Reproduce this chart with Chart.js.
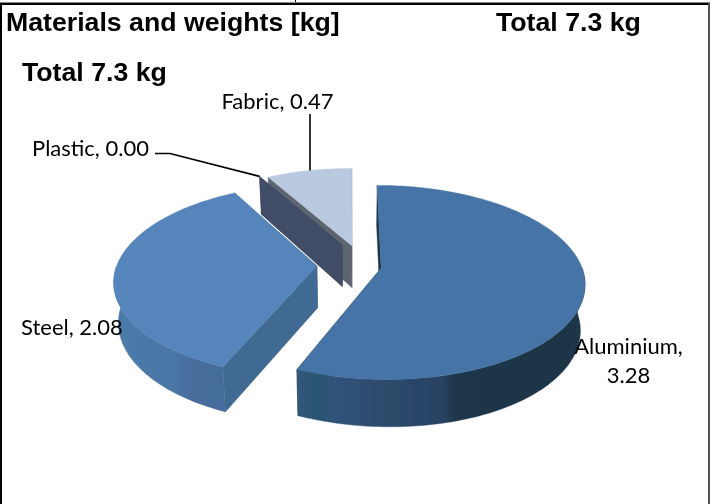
<!DOCTYPE html>
<html>
<head>
<meta charset="utf-8">
<title>Materials and weights</title>
<script src="https://cdn.jsdelivr.net/npm/chart.js@4"></script>
<style>
html, body { margin: 0; padding: 0; background: #fff; }
#wrap { position: relative; width: 710px; height: 504px; overflow: hidden; }
</style>
</head>
<body>
<div id="wrap"><canvas id="pieChart" width="710" height="504"></canvas></div>
<script>
var materials = ['Aluminium', 'Steel', 'Plastic', 'Fabric'];
var weights = [3.28, 2.08, 0.00, 0.47];
var totalText = 'Total 7.3 kg';
var titleText = 'Materials and weights [kg]';

var topColors = ['#4674a6', '#5585bb', '#414d66', '#b9c9e0'];
var sideColors = ['#1d3649', '#416a93', '#414d66', '#5e6570'];

// how far each slice is pulled out, on the floor of the pie
var pullX = [31, -33, -8, 2];
var pullY = [6.5, 2, -44, -42];

// camera
var cx = 350, cy = 265, radius = 200, squash = 0.47, persp = 0.000735;
var depth = 42.5, squashLow = 0.4885, shrinkLow = 0.98, tiltLow = 0.012;

function project(x, y, low) {
    var d = 1 - persp * y;
    if (low) {
        return [cx + shrinkLow * x / d, cy + depth + squashLow * y / d + tiltLow * x];
    }
    return [cx + x / d, cy + squash * y / d];
}

function rimPoints(i, start, end, low) {
    var pts = [];
    var steps = Math.max(1, Math.ceil((end - start) / 0.02));
    for (var s = 0; s <= steps; s++) {
        var a = start + (end - start) * s / steps;
        pts.push(project(pullX[i] + radius * Math.cos(a), pullY[i] + radius * Math.sin(a), low));
    }
    return pts;
}

function fillPoly(ctx, pts, fill) {
    ctx.beginPath();
    pts.forEach(function (p, n) {
        if (n === 0) ctx.moveTo(p[0], p[1]);
        else ctx.lineTo(p[0], p[1]);
    });
    ctx.closePath();
    ctx.fillStyle = fill;
    ctx.fill();
    ctx.strokeStyle = fill;
    ctx.lineWidth = 0.4;
    ctx.stroke();
}

function radialWall(ctx, i, angle) {
    var ox = pullX[i] + radius * Math.cos(angle);
    var oy = pullY[i] + radius * Math.sin(angle);
    fillPoly(ctx, [
        project(pullX[i], pullY[i], false),
        project(ox, oy, false),
        project(ox, oy, true),
        project(pullX[i], pullY[i], true)
    ], sideColors[i]);
}

function wallFill(ctx, i) {
    if (i === 0) {
        var g = ctx.createLinearGradient(298, 0, 585, 0);
        g.addColorStop(0, '#33567a');
        g.addColorStop(0.08, '#2a5472');
        g.addColorStop(0.13, '#30537a');
        g.addColorStop(0.2, '#2f5074');
        g.addColorStop(0.27, '#2f4a6e');
        g.addColorStop(0.34, '#2b4c6a');
        g.addColorStop(0.4, '#294668');
        g.addColorStop(0.5, '#2a4264');
        g.addColorStop(0.55, '#1d3649');
        g.addColorStop(1, '#1c3547');
        return g;
    }
    if (i === 1) {
        var h = ctx.createLinearGradient(118, 0, 224, 0);
        h.addColorStop(0, '#4a7caa');
        h.addColorStop(0.5, '#4a76a6');
        h.addColorStop(0.7, '#486d9d');
        h.addColorStop(1, '#446c9a');
        return h;
    }
    return sideColors[i];
}

function text(ctx, str, x, y, font, align) {
    ctx.font = font;
    ctx.textAlign = align || 'left';
    ctx.textBaseline = 'alphabetic';
    ctx.fillStyle = '#000';
    ctx.fillText(str, x, y);
}

function line(ctx, pts) {
    ctx.beginPath();
    pts.forEach(function (p, n) {
        if (n === 0) ctx.moveTo(p[0], p[1]);
        else ctx.lineTo(p[0], p[1]);
    });
    ctx.strokeStyle = '#000';
    ctx.lineWidth = 1.6;
    ctx.stroke();
}

var pie3d = {
    id: 'pie3d',
    beforeDatasetDraw: function (chart, args) {
        var ctx = chart.ctx;
        var arcs = args.meta.data;
        ctx.save();
        // back slices first, the near ones paint over them
        [3, 2, 1, 0].forEach(function (i) {
            var a = arcs[i];
            radialWall(ctx, i, a.endAngle);
            radialWall(ctx, i, a.startAngle);
            // only the part of the rim that faces the viewer has a wall
            var from = Math.max(a.startAngle, 0);
            var to = Math.min(a.endAngle, Math.PI);
            if (to > from) {
                var wallTop = rimPoints(i, from, to, false);
                var wallLow = rimPoints(i, from, to, true);
                fillPoly(ctx, wallTop.concat(wallLow.reverse()), wallFill(ctx, i));
            }
            if (a.endAngle > a.startAngle) {
                var rim = rimPoints(i, a.startAngle, a.endAngle, false);
                fillPoly(ctx, [project(pullX[i], pullY[i], false)].concat(rim), a.options.backgroundColor);
            }
        });
        ctx.restore();
        return false;
    },
    afterDatasetsDraw: function (chart) {
        var ctx = chart.ctx;
        var arcs = chart.getDatasetMeta(0).data;
        ctx.save();

        // frame
        ctx.fillStyle = '#000';
        ctx.fillRect(0, 3, 710, 2);
        ctx.fillRect(0, 3, 2, 501);
        ctx.fillRect(295, 0, 1, 3);
        ctx.fillStyle = '#888';
        ctx.fillRect(0, 2, 710, 1);
        ctx.fillStyle = '#555';
        ctx.fillRect(708, 3, 2, 501);

        var tf = 'bold 26.7px "Liberation Sans"';
        text(ctx, titleText, 6, 31, tf);
        text(ctx, totalText, 496, 31, tf);
        text(ctx, totalText, 22, 81, tf);

        var lf = '22px Lato';
        text(ctx, materials[3] + ', ' + weights[3].toFixed(2), 277.5, 109, lf, 'center');
        text(ctx, materials[2] + ', ' + weights[2].toFixed(2), 32, 156, lf);
        text(ctx, materials[1] + ', ' + weights[1].toFixed(2), 21, 335, lf);
        text(ctx, materials[0] + ',', 628.5, 354, lf, 'center');
        text(ctx, weights[0].toFixed(2), 628.5, 383, lf, 'center');

        // leader lines go to the rim of the slice
        var f = arcs[3];
        var fa = (f.startAngle + f.endAngle) / 2;
        var fp = project(pullX[3] + radius * Math.cos(fa), pullY[3] + radius * Math.sin(fa), false);
        line(ctx, [[310, 114], [310, fp[1]]]);
        var pa = arcs[2].startAngle;
        var pp = project(pullX[2] + radius * Math.cos(pa), pullY[2] + radius * Math.sin(pa), false);
        line(ctx, [[155, 153.5], [170, 153.5], pp]);

        ctx.restore();
    }
};

new Chart(document.getElementById('pieChart'), {
    type: 'pie',
    data: {
        labels: materials,
        datasets: [{
            data: weights,
            backgroundColor: topColors,
            borderWidth: 0
        }]
    },
    options: {
        responsive: false,
        animation: false,
        plugins: {
            legend: { display: false },
            tooltip: { enabled: false }
        }
    },
    plugins: [pie3d]
});
</script>
</body>
</html>
